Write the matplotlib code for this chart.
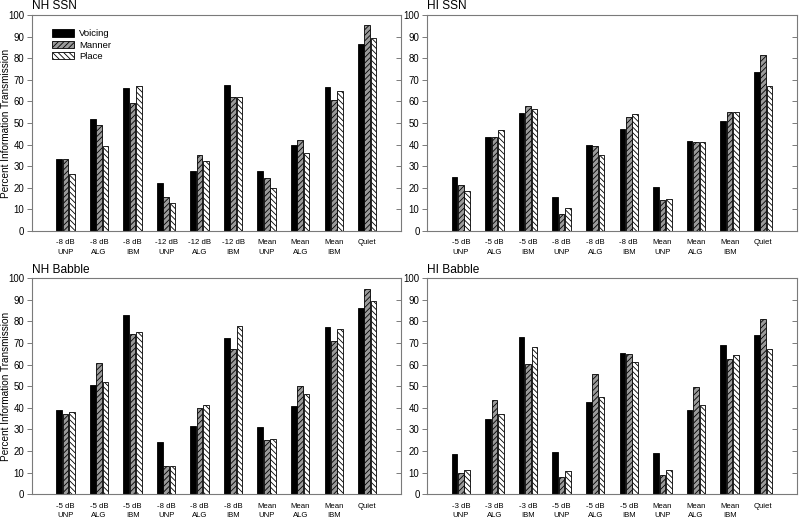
import matplotlib
matplotlib.use("Agg")
import matplotlib.pyplot as plt
import numpy as np

plt.rcParams['font.family'] = ['Liberation Sans', 'DejaVu Sans']
plt.rcParams['hatch.linewidth'] = 0.6

# Dados
series = ["Voicing", "Manner", "Place"]

labels_nh_ssn = ["-8 dB\nUNP", "-8 dB\nALG", "-8 dB\nIBM", "-12 dB\nUNP", "-12 dB\nALG",
                 "-12 dB\nIBM", "Mean\nUNP", "Mean\nALG", "Mean\nIBM", "Quiet"]
labels_hi_ssn = ["-5 dB\nUNP", "-5 dB\nALG", "-5 dB\nIBM", "-8 dB\nUNP", "-8 dB\nALG",
                 "-8 dB\nIBM", "Mean\nUNP", "Mean\nALG", "Mean\nIBM", "Quiet"]
labels_nh_bab = ["-5 dB\nUNP", "-5 dB\nALG", "-5 dB\nIBM", "-8 dB\nUNP", "-8 dB\nALG",
                 "-8 dB\nIBM", "Mean\nUNP", "Mean\nALG", "Mean\nIBM", "Quiet"]
labels_hi_bab = ["-3 dB\nUNP", "-3 dB\nALG", "-3 dB\nIBM", "-5 dB\nUNP", "-5 dB\nALG",
                 "-5 dB\nIBM", "Mean\nUNP", "Mean\nALG", "Mean\nIBM", "Quiet"]

# NH SSN
nh_ssn_voicing = [33.5, 51.8, 66.3, 22.3, 27.7, 67.4, 28.0, 39.7, 66.9, 86.4]
nh_ssn_manner  = [33.2, 49.0, 59.5, 15.8, 35.4, 62.0, 24.4, 42.2, 60.7, 95.2]
nh_ssn_place   = [26.5, 39.3, 67.2, 13.0, 32.3, 62.0, 19.8, 36.2, 64.9, 89.3]

# HI SSN
hi_ssn_voicing = [25.0, 43.6, 54.6, 15.8, 39.9, 47.3, 20.4, 41.7, 50.9, 73.6]
hi_ssn_manner  = [21.2, 43.6, 58.0, 8.0, 39.3, 52.7, 14.4, 41.4, 55.2, 81.3]
hi_ssn_place   = [18.7, 46.8, 56.6, 10.8, 35.2, 54.1, 14.7, 41.0, 55.2, 67.2]

# NH Babble
nh_bab_voicing = [38.9, 50.5, 82.9, 24.0, 31.6, 72.2, 31.2, 40.9, 77.6, 86.1]
nh_bab_manner  = [37.0, 60.5, 74.3, 13.0, 39.8, 67.1, 25.0, 50.0, 70.8, 94.9]
nh_bab_place   = [38.0, 51.8, 75.0, 13.0, 41.2, 77.8, 25.5, 46.6, 76.3, 89.2]

# HI Babble
hi_bab_voicing = [18.4, 35.0, 72.8, 19.6, 42.9, 65.3, 19.0, 39.0, 69.1, 73.5]
hi_bab_manner  = [9.7, 43.5, 60.2, 7.9, 55.7, 65.1, 8.8, 49.5, 62.8, 81.3]
hi_bab_place   = [11.4, 37.0, 68.0, 10.6, 44.9, 61.1, 11.1, 41.2, 64.5, 67.1]

spine_col = '#7a7a7a'


def painel(ax, titulo, rotulos, v, m, p, legenda=False, ylabel=False):
    x = np.arange(1, len(rotulos) + 1)
    w = 0.17
    d = 0.19
    ax.bar(x - d, v, w, color='black', edgecolor='black', linewidth=0.6, label=series[0])
    ax.bar(x, m, w, color='#9a9a9a', edgecolor='black', linewidth=0.6,
           hatch='//////', label=series[1])
    ax.bar(x + d, p, w, color='white', edgecolor='black', linewidth=0.6,
           hatch='\\\\\\\\\\\\', label=series[2])
    ax.set_xlim(0, 11)
    ax.set_ylim(0, 100)
    ax.set_yticks(np.arange(0, 101, 10))
    ax.set_xticks(x)
    ax.set_xticklabels(rotulos, fontsize=5.6, linespacing=1.5)
    ax.tick_params(axis='x', length=0, pad=6)
    ax.tick_params(axis='y', direction='out', length=3.5, width=0.7,
                   color=spine_col, labelsize=6.9, pad=2)
    for s in ax.spines.values():
        s.set_color(spine_col)
        s.set_linewidth(0.8)
    # ticks internos no eixo da direita
    ax2 = ax.twinx()
    ax2.set_ylim(0, 100)
    ax2.set_yticks(np.arange(0, 101, 10))
    ax2.tick_params(axis='y', direction='in', length=3.5, width=0.7,
                    color=spine_col, labelright=False)
    for s in ax2.spines.values():
        s.set_visible(False)
    ax.text(0.0, 1.012, titulo, transform=ax.transAxes, fontsize=8.6,
            ha='left', va='bottom')
    if ylabel:
        ax.set_ylabel("Percent Information Transmission", fontsize=7.2)
        ax.yaxis.set_label_coords(-0.058, 0.5)
    if legenda:
        ax.legend(loc='upper left', bbox_to_anchor=(0.035, 0.965), frameon=False,
                  fontsize=6.8, handlelength=2.4, handleheight=0.8,
                  handletextpad=0.5, labelspacing=0.25, borderaxespad=0.3)


fig = plt.figure(figsize=(8, 5.18), dpi=100)
ax1 = fig.add_axes([0.040, 0.554, 0.461, 0.417])
ax2 = fig.add_axes([0.534, 0.554, 0.462, 0.417])
ax3 = fig.add_axes([0.040, 0.046, 0.461, 0.417])
ax4 = fig.add_axes([0.534, 0.046, 0.462, 0.417])

painel(ax1, "NH SSN", labels_nh_ssn, nh_ssn_voicing, nh_ssn_manner, nh_ssn_place,
       legenda=True, ylabel=True)
painel(ax2, "HI SSN", labels_hi_ssn, hi_ssn_voicing, hi_ssn_manner, hi_ssn_place)
painel(ax3, "NH Babble", labels_nh_bab, nh_bab_voicing, nh_bab_manner, nh_bab_place,
       ylabel=True)
painel(ax4, "HI Babble", labels_hi_bab, hi_bab_voicing, hi_bab_manner, hi_bab_place)

fig.savefig("out.png", dpi=100)
